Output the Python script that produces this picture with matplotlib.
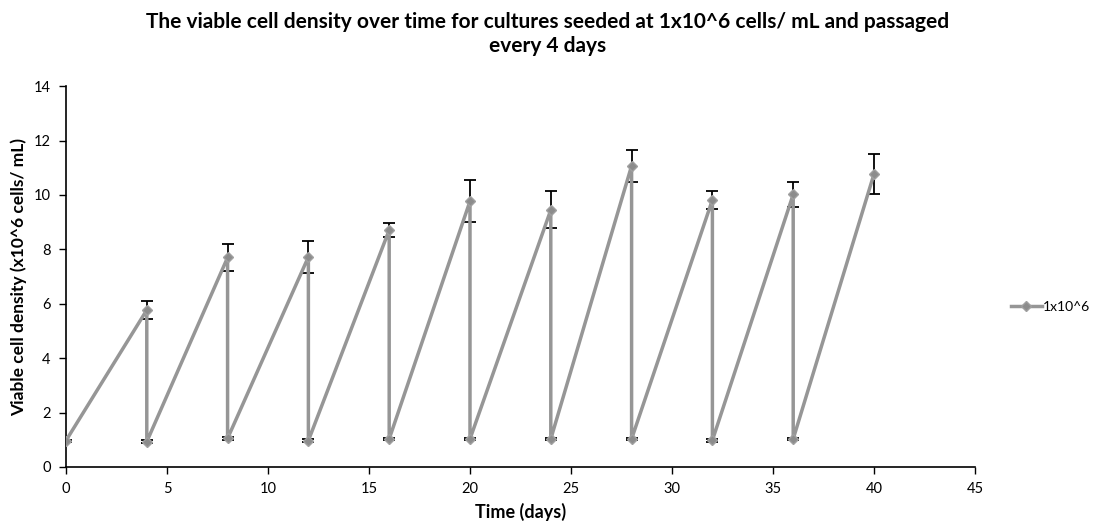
import numpy as np
import matplotlib.pyplot as plt

plt.rcParams["font.family"] = ["Lato", "DejaVu Sans"]

# Culture passaged every 4 days: peak density then reseed at ~1x10^6
days = [0, 4, 4, 8, 8, 12, 12, 16, 16, 20, 20, 24, 24, 28, 28, 32, 32, 36, 36, 40]
density = [0.97, 5.77, 0.93, 7.70, 1.05, 7.72, 0.97, 8.71, 1.03, 9.77, 1.03,
           9.45, 1.03, 11.07, 1.03, 9.82, 0.98, 10.02, 1.03, 10.77]
errors = [0.04, 0.33, 0.05, 0.49, 0.05, 0.58, 0.05, 0.26, 0.05, 0.78, 0.05,
          0.68, 0.05, 0.59, 0.05, 0.32, 0.05, 0.45, 0.05, 0.75]
series_label = "1x10^6"

fig = plt.figure(figsize=(10.96, 5.25), dpi=100)
ax = fig.add_axes([0.0602, 0.1105, 0.8294, 0.7255])

ax.errorbar(days, density, yerr=errors, fmt="none", ecolor="black",
            elinewidth=1.3, capsize=4, capthick=1.3, zorder=2)
ax.plot(days, density, color="#969696", lw=2.5, marker="D", markersize=5.5,
        markerfacecolor="#8c8c8c", markeredgecolor="#a0a0a0",
        label=series_label, zorder=3)

ax.set_xlim(0, 45)
ax.set_ylim(0, 14)
ax.set_xticks(np.arange(0, 46, 5))
ax.set_yticks(np.arange(0, 15, 2))
ax.tick_params(direction="out", length=5, width=1, labelsize=10.5, pad=6)
for side in ("top", "right"):
    ax.spines[side].set_visible(False)
for side in ("left", "bottom"):
    ax.spines[side].set_linewidth(1.2)

ax.set_xlabel("Time (days)", fontsize=13, fontweight="bold", labelpad=5)
ax.set_ylabel("Viable cell density (x10^6 cells/ mL)", fontsize=12.5,
              fontweight="bold", labelpad=5)

# chart title is centred on the whole figure, not on the axes
fig.text(0.5, 0.978,
         "The viable cell density over time for cultures seeded at 1x10^6 cells/ mL and passaged\nevery 4 days",
         ha="center", va="top", fontsize=15, fontweight="bold", linespacing=1.3)

ax.legend(loc="center left", bbox_to_anchor=(1.0396, 0.42), frameon=False,
          fontsize=10, handlelength=2.2, handletextpad=0.1,
          borderpad=0, borderaxespad=0)

plt.savefig("out.png", dpi=100)
